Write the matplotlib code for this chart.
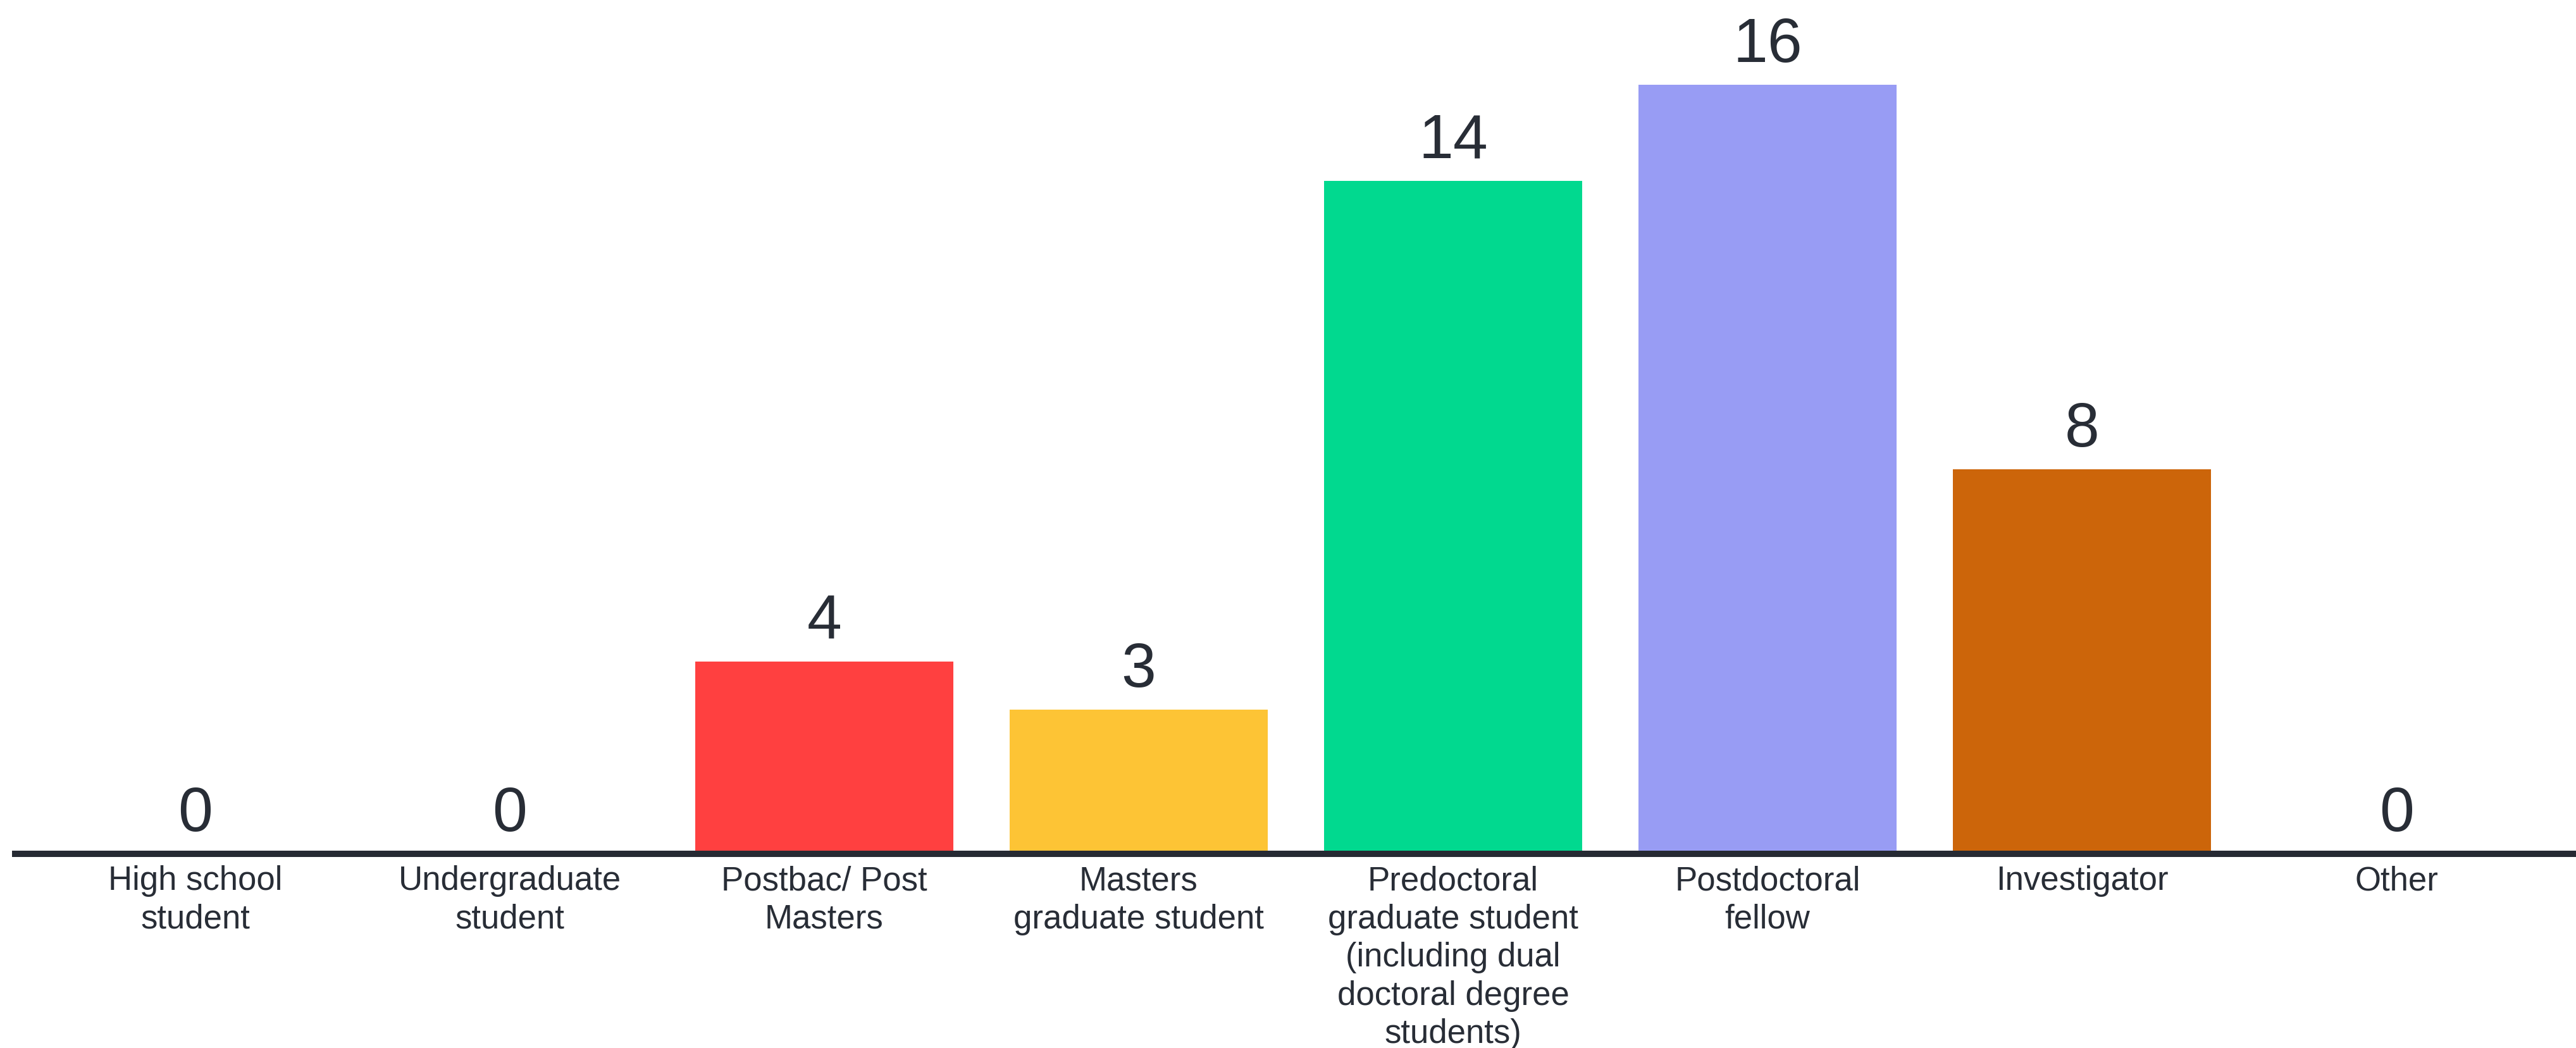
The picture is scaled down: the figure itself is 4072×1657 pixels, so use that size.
import matplotlib.pyplot as plt
import numpy as np

# Données
categories = ["High school\nstudent", "Undergraduate\nstudent", "Postbac/ Post\nMasters",
              "Masters\ngraduate student",
              "Predoctoral\ngraduate student\n(including dual\ndoctoral degree\nstudents)",
              "Postdoctoral\nfellow", "Investigator", "Other"]
valeurs = [0, 0, 4, 3, 14, 16, 8, 0]
couleurs = ["#9ea3f5", "#9ea3f5", "#FF4040", "#FDC435", "#01D98F", "#989CF4", "#CC650A", "#9ea3f5"]

texte = "#282d36"

fig = plt.figure(figsize=(40.72, 16.57), dpi=100)
ax = fig.add_axes([24 / 4072, (1657 - 1350) / 1657, 1 - 24 / 4072, 1350 / 1657])

x = np.arange(len(valeurs))
ax.bar(x, valeurs, width=0.82, color=couleurs, zorder=1)

# Étiquettes de valeurs
for i, v in enumerate(valeurs):
    ax.annotate(str(v), (i, v), xytext=(0, 26), textcoords="offset points",
                ha="center", va="baseline", fontsize=71, color=texte,
                family="Liberation Sans")

ax.set_xlim(-0.573, 7.571)
ax.set_ylim(0, 1350 / 76)

for s in ["top", "right", "left"]:
    ax.spines[s].set_visible(False)
ax.spines["bottom"].set_linewidth(7.2)
ax.spines["bottom"].set_color("#262a33")
ax.spines["bottom"].set_zorder(3)

ax.set_yticks([])
ax.set_xticks(x)
ax.set_xticklabels(categories, fontsize=38, color=texte, family="Liberation Sans",
                   linespacing=1.27)
ax.tick_params(axis="x", length=0, pad=13)

fig.savefig("out.png", dpi=100)
